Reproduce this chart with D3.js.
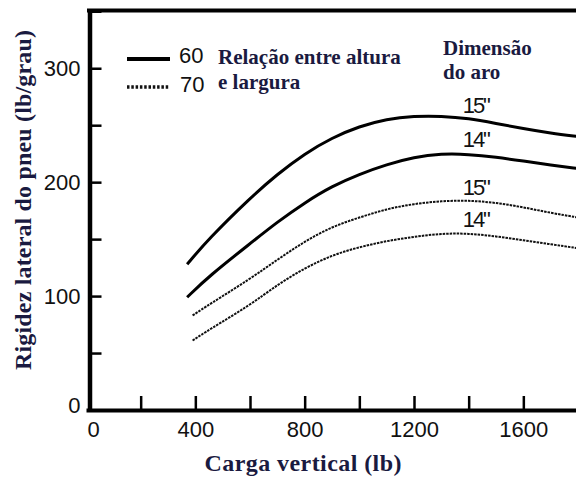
<!DOCTYPE html>
<html>
<head>
<meta charset="utf-8">
<script src="https://cdn.jsdelivr.net/npm/d3@7"></script>
<style>
  body { margin: 0; background: #fff; }
  .num { font-family: "Liberation Sans", Arial, sans-serif; font-size: 22px; fill: #111; }
  .serif { font-family: "Liberation Serif", "Times New Roman", serif; font-weight: bold; fill: #1a1a40; }
</style>
</head>
<body>
<div id="chart"></div>
<script>
// vertical load (lb) and lateral stiffness (lb/deg)
const loadSolid = [370, 450, 600, 700, 800, 900, 1000, 1100, 1200, 1300, 1400, 1500, 1600, 1700, 1800];
const ratio60rim15 = [128, 150.5, 186, 207, 225, 239, 249, 255.5, 258, 258, 256, 251.5, 247, 243, 240];
const ratio60rim14 = [99, 117.5, 146, 165, 182, 196.5, 207, 215.5, 222, 225, 224.5, 222, 218.5, 215, 212];

const loadDotted = [390, 450, 600, 700, 800, 900, 1000, 1100, 1200, 1300, 1400, 1500, 1600, 1700, 1800];
const ratio70rim15 = [83, 92.5, 115, 132, 148, 161, 169, 176.5, 181, 183.5, 184, 182, 178, 173, 169];
const ratio70rim14 = [61, 70.5, 92, 110, 124.5, 136, 143, 148.5, 152, 155, 155, 152.5, 149, 145.5, 142];

const rimLabels = ['15"', '14"', '15"', '14"'];
const rimLabelValues = [261, 231, 189, 161];
const rimLabelLoad = 1430;

const xTicks = [0, 200, 400, 600, 800, 1000, 1200, 1400, 1600];
const yTicks = [0, 50, 100, 150, 200, 250, 300, 350];

const W = 576, H = 477;

const svg = d3.select("#chart")
  .append("svg")
  .attr("width", W)
  .attr("height", H)
  .style("background", "#fff");

const x = d3.scaleLinear().domain([0, 1800]).range([86, 578]);
const y = d3.scaleLinear().domain([0, 352]).range([410, 9]);

// bottom axis, ticks pointing up
const xAxis = svg.append("g")
  .attr("transform", "translate(0,410)")
  .call(d3.axisBottom(x).tickValues(xTicks).tickSizeInner(-14).tickSizeOuter(0).tickPadding(11)
    .tickFormat(d => d % 400 === 0 ? d : ""));
xAxis.select(".domain").attr("stroke", "#000").attr("stroke-width", 4);
xAxis.selectAll(".tick line").attr("stroke", "#000").attr("stroke-width", 2.5)
  .attr("display", d => d === 0 ? "none" : null);
xAxis.selectAll(".tick text").attr("class", "num").attr("font-size", null).attr("font-family", null)
  .attr("dx", d => d === 0 ? 7 : 0);

// left axis, ticks pointing right
const yAxis = svg.append("g")
  .attr("transform", "translate(89.5,0)")
  .call(d3.axisLeft(y).tickValues(yTicks).tickSizeInner(-12).tickSizeOuter(0).tickPadding(9)
    .tickFormat(d => d % 100 === 0 ? d : ""));
yAxis.select(".domain").attr("stroke", "#000").attr("stroke-width", 4.5);
yAxis.selectAll(".tick line").attr("stroke", "#000").attr("stroke-width", 2.5);
yAxis.selectAll(".tick text").attr("class", "num").attr("font-size", null).attr("font-family", null)
  .attr("dy", d => d === 0 ? "0.1em" : "0.32em");

// top frame line
svg.append("line")
  .attr("x1", 87).attr("x2", W)
  .attr("y1", 10.5).attr("y2", 10.5)
  .attr("stroke", "#000").attr("stroke-width", 4);

// axis titles
svg.append("text")
  .attr("class", "serif")
  .attr("x", 303).attr("y", 471)
  .attr("text-anchor", "middle")
  .attr("font-size", 24)
  .attr("textLength", 197)
  .text("Carga vertical (lb)");

svg.append("text")
  .attr("class", "serif")
  .attr("transform", "translate(31,200) rotate(-90)")
  .attr("text-anchor", "middle")
  .attr("font-size", 24)
  .attr("textLength", 340)
  .text("Rigidez lateral do pneu (lb/grau)");

// curves
const line = d3.line()
  .x(d => x(d[0]))
  .y(d => y(d[1]))
  .curve(d3.curveBasis);

const series = [
  { load: loadSolid, vals: ratio60rim15, dotted: false },
  { load: loadSolid, vals: ratio60rim14, dotted: false },
  { load: loadDotted, vals: ratio70rim15, dotted: true },
  { load: loadDotted, vals: ratio70rim14, dotted: true }
];

svg.append("g").selectAll("path")
  .data(series)
  .join("path")
  .attr("d", s => line(d3.zip(s.load, s.vals)))
  .attr("fill", "none")
  .attr("stroke", s => s.dotted ? "#111" : "#000")
  .attr("stroke-width", s => s.dotted ? 2 : 3)
  .attr("stroke-dasharray", s => s.dotted ? "2.5,1" : null);

// rim size labels
svg.append("g").selectAll("text")
  .data(rimLabels)
  .join("text")
  .attr("class", "num")
  .attr("x", x(rimLabelLoad))
  .attr("y", (d, i) => y(rimLabelValues[i]))
  .attr("text-anchor", "middle")
  .attr("textLength", 28)
  .text(d => d);

// legend
const legend = svg.append("g");
legend.append("line")
  .attr("x1", 127).attr("x2", 170).attr("y1", 59).attr("y2", 59)
  .attr("stroke", "#000").attr("stroke-width", 4);
legend.append("line")
  .attr("x1", 127).attr("x2", 170).attr("y1", 87).attr("y2", 87)
  .attr("stroke", "#111").attr("stroke-width", 3.5).attr("stroke-dasharray", "2.5,1.8");
legend.append("text").attr("class", "num").attr("x", 179).attr("y", 63).text("60");
legend.append("text").attr("class", "num").attr("x", 180).attr("y", 92).text("70");

legend.append("text").attr("class", "serif").attr("font-size", 21)
  .attr("x", 218).attr("y", 64).text("Relação entre altura");
legend.append("text").attr("class", "serif").attr("font-size", 21)
  .attr("x", 218).attr("y", 89).text("e largura");
legend.append("text").attr("class", "serif").attr("font-size", 21)
  .attr("x", 443).attr("y", 55).text("Dimensão");
legend.append("text").attr("class", "serif").attr("font-size", 21)
  .attr("x", 443).attr("y", 79).text("do aro");
</script>
</body>
</html>
